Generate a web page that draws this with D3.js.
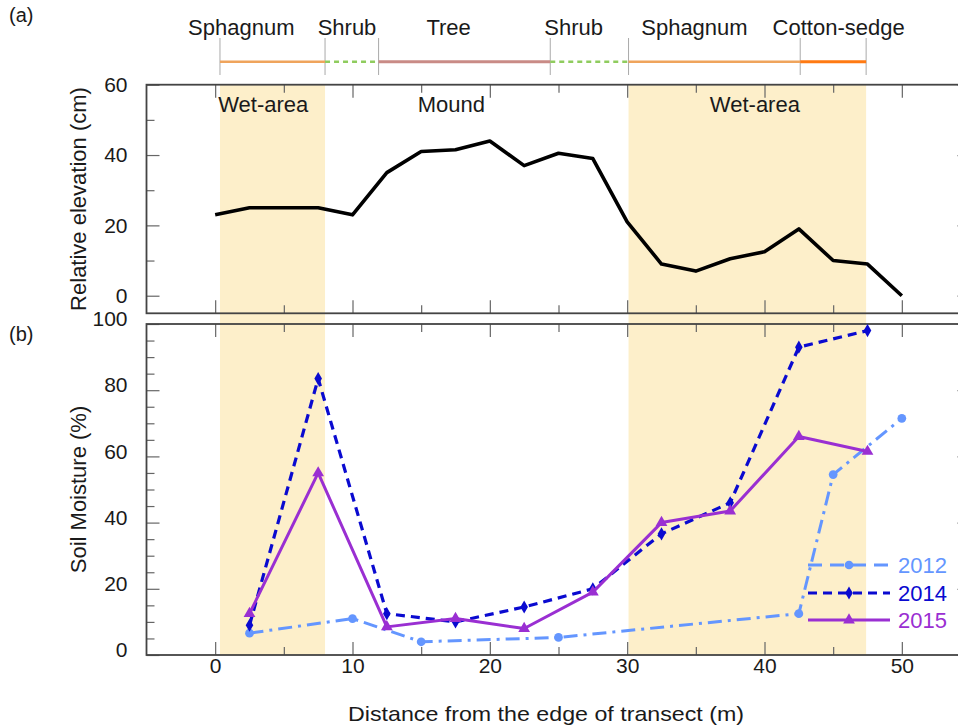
<!DOCTYPE html>
<html>
<head>
<meta charset="utf-8">
<script src="https://cdn.jsdelivr.net/npm/d3@7"></script>
<style>
  html, body { margin: 0; padding: 0; background: #fff; }
  svg { display: block; font-family: "Liberation Sans", Arial, Helvetica, sans-serif; }
</style>
</head>
<body>
<div id="chart"></div>
<script>
// vegetation zones along the transect (m)
var VEG_BOUNDS = [0.35, 8, 11.9, 24.4, 30.1, 42.6, 47.4];
var VEG_TYPES = ["Sphagnum", "Shrub", "Tree", "Shrub", "Sphagnum", "Cotton-sedge"];
var VEG_LABEL_X = [1.9, 9.6, 17, 26.1, 34.9, 45.4];

// wet-area bands and zone labels in panel (a)
var WET_BANDS = [[0.35, 8], [30.1, 47.4]];
var ZONE_NAMES = ["Wet-area", "Mound", "Wet-area"];
var ZONE_X = [3.5, 17.2, 39.3];

// (a) relative elevation (cm)
var ELEV_X = [0, 2.5, 7.5, 10, 12.5, 15, 17.5, 20, 22.5, 25, 27.5, 30, 32.5, 35, 37.5, 40, 42.5, 45, 47.5, 50];
var ELEV_Y = [23, 25, 25, 23, 35, 41, 41.5, 44, 37, 40.5, 39, 21, 9, 7, 10.5, 12.5, 19, 10, 9, 0];

// (b) soil moisture (%)
var X_2012 = [2.5, 10, 15, 25, 42.5, 45, 50];
var Y_2012 = [6.6, 11, 4, 5.3, 12.5, 54.5, 71.5];
var X_2014 = [2.5, 7.5, 12.5, 17.5, 22.5, 27.5, 32.5, 37.5, 42.5, 47.5];
var Y_2014 = [9, 83.5, 12.5, 10, 14.5, 20, 36.6, 46, 93, 98];
var X_2015 = [2.5, 7.5, 12.5, 17.5, 22.5, 27.5, 32.5, 37.5, 42.5, 47.5];
var Y_2015 = [12.5, 55, 8.5, 11, 8, 19, 40, 43.5, 66, 61.5];

var SERIES_NAMES = ["2012", "2014", "2015"];

// tick values
var X_MAJOR = [0, 10, 20, 30, 40, 50];
var X_MINOR = [5, 15, 25, 35, 45];
var ELEV_MAJOR = [0, 20, 40, 60];
var ELEV_MINOR = [10, 30, 50];
var SM_MAJOR = [0, 20, 40, 60, 80, 100];
var SM_MINOR = [5, 10, 15, 25, 30, 35, 45, 50, 55, 65, 70, 75, 85, 90, 95];

var W = 958, H = 726;
var FRAME = "#444", TICK = "#666", SHADE = "#fdefca";

var svg = d3.select("#chart").append("svg")
  .attr("width", W).attr("height", H)
  .attr("viewBox", "0 0 " + W + " " + H);

var x = d3.scaleLinear().domain([-5, 55]).range([146.5, 970.5]);
var yA = d3.scaleLinear().domain([-5, 60]).range([313.3, 84.7]);
var yB = d3.scaleLinear().domain([0, 100]).range([655, 324]);

// wet-area shading through both panels
WET_BANDS.forEach(function(b) {
  svg.append("rect")
    .attr("x", x(b[0])).attr("y", yA.range()[1])
    .attr("width", x(b[1]) - x(b[0]))
    .attr("height", yB.range()[0] - yA.range()[1])
    .attr("fill", SHADE);
});

// vegetation strip on top
var vegStyle = {
  "Sphagnum": { color: "#efa45c", dash: null, width: 2.5 },
  "Shrub": { color: "#8fcc5e", dash: "5,4", width: 2.5 },
  "Tree": { color: "#c98b86", dash: null, width: 3 },
  "Cotton-sedge": { color: "#ff7a12", dash: null, width: 3 }
};
var vegY = 61.7;
VEG_BOUNDS.forEach(function(b) {
  svg.append("line")
    .attr("x1", x(b)).attr("x2", x(b))
    .attr("y1", 38).attr("y2", 75)
    .attr("stroke", "#aaa").attr("stroke-width", 1);
});
VEG_TYPES.forEach(function(t, i) {
  var st = vegStyle[t];
  svg.append("line")
    .attr("x1", x(VEG_BOUNDS[i])).attr("x2", x(VEG_BOUNDS[i + 1]))
    .attr("y1", vegY).attr("y2", vegY)
    .attr("stroke", st.color).attr("stroke-width", st.width)
    .attr("stroke-dasharray", st.dash);
  svg.append("text")
    .attr("x", x(VEG_LABEL_X[i])).attr("y", 35)
    .attr("text-anchor", "middle")
    .attr("font-size", "22px").attr("fill", "#1a1a1a")
    .text(t);
});

// axes helper: inward ticks on all four sides
function panelAxes(y, major, minor, labels, labelShift) {
  var g = svg.append("g");
  var x0 = x.range()[0], x1 = x.range()[1];
  var y0 = y.range()[0], y1 = y.range()[1];

  function add(axis, tx, ty) {
    var a = g.append("g").attr("transform", "translate(" + tx + "," + ty + ")").call(axis);
    a.select(".domain").remove();
    a.selectAll(".tick line").attr("stroke", TICK).attr("stroke-width", 1.2);
    a.selectAll("text").attr("font-size", "21px").attr("fill", "#1a1a1a").attr("font-family", null);
    return a;
  }

  var left = add(d3.axisLeft(y).tickValues(major).tickSize(-13).tickPadding(19).tickFormat(d3.format("d")), x0, 0);
  left.selectAll("text").attr("y", -labelShift);
  add(d3.axisLeft(y).tickValues(minor).tickSize(-8).tickFormat(""), x0, 0);
  add(d3.axisRight(y).tickValues(major).tickSize(-13).tickFormat(""), x1, 0);
  add(d3.axisRight(y).tickValues(minor).tickSize(-8).tickFormat(""), x1, 0);

  add(d3.axisTop(x).tickValues(X_MAJOR).tickSize(-13).tickFormat(""), 0, y1);
  add(d3.axisTop(x).tickValues(X_MINOR).tickSize(-8).tickFormat(""), 0, y1);
  add(d3.axisBottom(x).tickValues(X_MAJOR).tickSize(-13).tickPadding(3)
    .tickFormat(labels ? d3.format("d") : ""), 0, y0);
  add(d3.axisBottom(x).tickValues(X_MINOR).tickSize(-8).tickFormat(""), 0, y0);

  g.append("rect")
    .attr("x", x0).attr("y", y1)
    .attr("width", x1 - x0).attr("height", y0 - y1)
    .attr("fill", "none").attr("stroke", FRAME).attr("stroke-width", 1.8);
}

panelAxes(yA, ELEV_MAJOR, ELEV_MINOR, false, 0);
panelAxes(yB, SM_MAJOR, SM_MINOR, true, 5);

// zone labels in (a)
ZONE_NAMES.forEach(function(n, i) {
  svg.append("text")
    .attr("x", x(ZONE_X[i])).attr("y", 112)
    .attr("text-anchor", "middle")
    .attr("font-size", "22px").attr("fill", "#1a1a1a")
    .text(n);
});

// elevation line
var lineA = d3.line()
  .x(function(d) { return x(d[0]); })
  .y(function(d) { return yA(d[1]); });
svg.append("path")
  .datum(d3.zip(ELEV_X, ELEV_Y))
  .attr("d", lineA)
  .attr("fill", "none").attr("stroke", "#000")
  .attr("stroke-width", 3.6).attr("stroke-linejoin", "round");

// soil moisture series
var lineB = d3.line()
  .x(function(d) { return x(d[0]); })
  .y(function(d) { return yB(d[1]); });

var seriesStyle = [
  { color: "#6496ff", dash: "14,6,3,6", width: 3, symbol: d3.symbolCircle, size: 60 },
  { color: "#0a0ad0", dash: "9,6", width: 3.2, symbol: d3.symbolDiamond, size: 50 },
  { color: "#9a2fd2", dash: null, width: 3, symbol: d3.symbolTriangle, size: 60 }
];
var seriesData = [d3.zip(X_2012, Y_2012), d3.zip(X_2014, Y_2014), d3.zip(X_2015, Y_2015)];

seriesData.forEach(function(data, i) {
  var st = seriesStyle[i];
  svg.append("path")
    .datum(data)
    .attr("d", lineB)
    .attr("fill", "none").attr("stroke", st.color)
    .attr("stroke-width", st.width).attr("stroke-dasharray", st.dash)
    .attr("stroke-linejoin", "round");
  svg.selectAll(".m" + i)
    .data(data)
    .enter().append("path")
    .attr("class", "m" + i)
    .attr("transform", function(d) { return "translate(" + x(d[0]) + "," + yB(d[1]) + ")"; })
    .attr("d", d3.symbol().type(st.symbol).size(st.size))
    .attr("fill", st.color);
});

// legend
var legY = [565, 593, 620];
SERIES_NAMES.forEach(function(name, i) {
  var st = seriesStyle[i];
  svg.append("line")
    .attr("x1", 808).attr("x2", 890)
    .attr("y1", legY[i]).attr("y2", legY[i])
    .attr("stroke", st.color).attr("stroke-width", st.width)
    .attr("stroke-dasharray", i === 0 ? "14,8" : st.dash);
  svg.append("path")
    .attr("transform", "translate(849," + legY[i] + ")")
    .attr("d", d3.symbol().type(st.symbol).size(st.size))
    .attr("fill", st.color);
  svg.append("text")
    .attr("x", 898).attr("y", legY[i] + 8)
    .attr("font-size", "22px").attr("fill", st.color)
    .text(name);
});

// panel tags and axis titles
svg.append("text").attr("x", 9).attr("y", 22).attr("font-size", "20px").attr("fill", "#1a1a1a").text("(a)");
svg.append("text").attr("x", 9).attr("y", 341).attr("font-size", "20px").attr("fill", "#1a1a1a").text("(b)");

svg.append("text")
  .attr("transform", "translate(86," + (yA(27.5)) + ") rotate(-90)")
  .attr("text-anchor", "middle")
  .attr("font-size", "22px").attr("fill", "#1a1a1a")
  .text("Relative elevation (cm)");

svg.append("text")
  .attr("transform", "translate(86," + (yB(50)) + ") rotate(-90)")
  .attr("text-anchor", "middle")
  .attr("font-size", "22px").attr("fill", "#1a1a1a")
  .text("Soil Moisture (%)");

svg.append("text")
  .attr("x", 546).attr("y", 721)
  .attr("text-anchor", "middle")
  .attr("font-size", "21px").attr("fill", "#1a1a1a")
  .attr("textLength", 396).attr("lengthAdjust", "spacingAndGlyphs")
  .text("Distance from the edge of transect (m)");
</script>
</body>
</html>
